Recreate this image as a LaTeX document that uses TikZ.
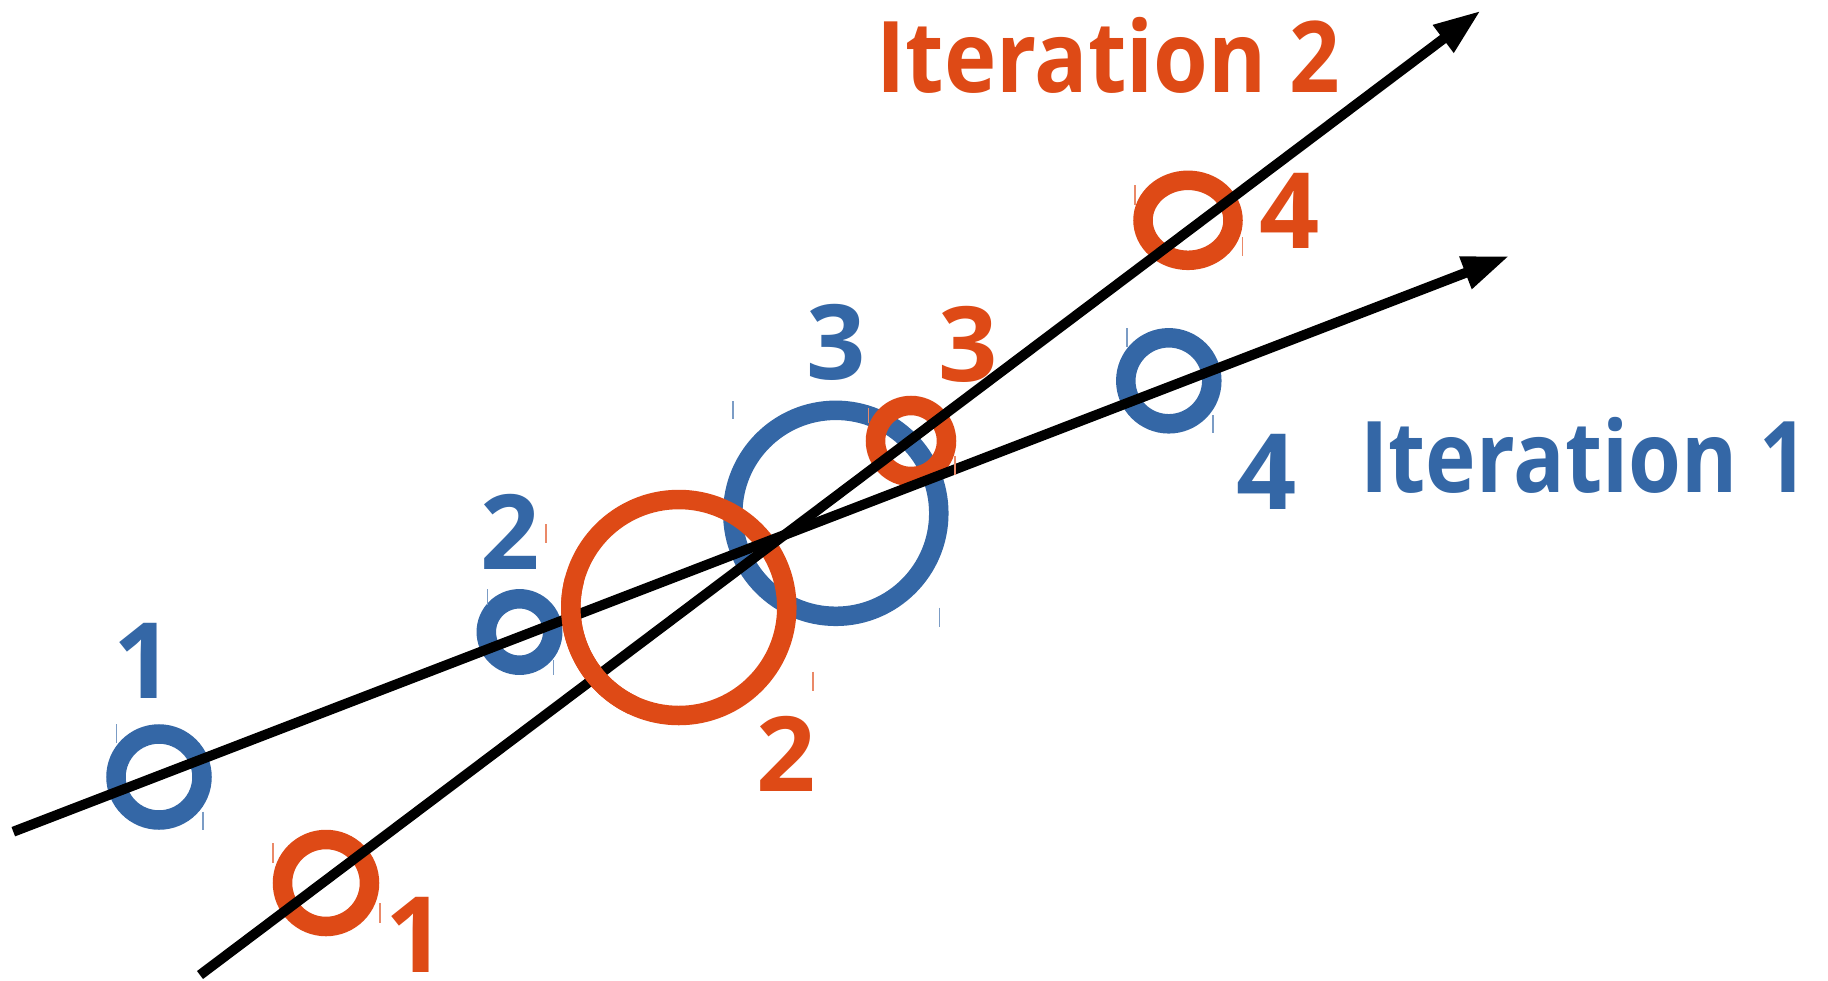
\documentclass[tikz,border=0pt]{standalone}
\usepackage{fontspec}
\usepackage{graphicx}
\setmainfont{Open Sans}
\usetikzlibrary{arrows.meta,shapes.geometric}
\definecolor{blueC}{RGB}{52,103,166}
\definecolor{orangeC}{RGB}{222,74,22}
\begin{document}
\begin{tikzpicture}[x=0.5pt,y=-0.5pt,
  ring/.style={line width=9.75pt,inner sep=0pt,outer sep=0pt},
  bring/.style={ring,draw=blueC,circle},
  oring/.style={ring,draw=orangeC,circle},
  axis/.style={line width=5pt,-{Triangle[length=23.5pt,width=16pt]}},
  btick/.style={line width=0.8pt,blueC!65},
  otick/.style={line width=0.8pt,orangeC!65},
  lbl/.style={inner sep=0pt,outer sep=0pt,font=\bfseries},
  blbl/.style={lbl,text=blueC},
  olbl/.style={lbl,text=orangeC}]
\useasboundingbox (0,0) rectangle (1828,981);
% blue rings (iteration 1)
\node[bring,minimum size=43pt]   (b1) at (159,777) {};
\node[bring,minimum size=33.2pt] (b2) at (519.5,632) {};
\node[bring,minimum size=103pt]  (b3) at (835.8,513.3) {};
\node[bring,minimum size=43pt]   (b4) at (1168.8,380.8) {};
% orange rings (iteration 2)
\node[oring,minimum size=43.5pt] (o1) at (326,883) {};
\node[oring,minimum size=108pt]  (o2) at (678.8,607.5) {};
\node[oring,minimum size=35.5pt] (o3) at (911,441) {};
\node[ring,draw=orangeC,ellipse,minimum width=45pt,minimum height=40pt] (o4) at (1188,220.3) {};
% axes
\coordinate (s1) at (13.3,831.7);
\coordinate (e1) at (1509.3,256);
\coordinate (s2) at (200,975);
\coordinate (e2) at (1480.7,10.7);
\draw[axis] (s1) -- (e1);
\draw[axis] (s2) -- (e2);
% left part of ring 2 lies over the axes
\draw[orangeC,line width=9.75pt] (o2.165) arc[start angle=165,end angle=245,radius=54pt];
% small marks
\draw[btick] (116.3,724) -- (116.3,743);
\draw[btick] (202.7,811.7) -- (202.7,830);
\draw[btick] (487.3,589) -- (487.3,605);
\draw[btick] (553.3,660) -- (553.3,675);
\draw[btick] (732.7,401) -- (732.7,419.3);
\draw[btick] (939.3,607.7) -- (939.3,626.7);
\draw[btick] (1126.7,328.3) -- (1126.7,346.7);
\draw[btick] (1212.7,415) -- (1212.7,433.3);
\draw[otick] (272.7,843) -- (272.7,863);
\draw[otick] (380,903) -- (380,922.7);
\draw[otick] (546,524) -- (546,542.7);
\draw[otick] (812.7,671.7) -- (812.7,690.7);
\draw[otick] (868.3,408) -- (868.3,423);
\draw[otick] (955,456) -- (955,475);
\draw[otick] (1134.7,185) -- (1134.7,205);
\draw[otick] (1242.3,237.3) -- (1242.3,256);
% labels
\node[blbl] (lb1) at (144,661) {\resizebox{!}{37.6pt}{1}};
\node[blbl] (lb2) at (510,532) {\resizebox{!}{37.6pt}{2}};
\node[blbl] (lb3) at (836,342.3) {\resizebox{!}{37.6pt}{3}};
\node[blbl] (lb4) at (1266.7,471.6) {\resizebox{!}{37.6pt}{4}};
\node[olbl] (lo1) at (416,935) {\resizebox{!}{37.6pt}{1}};
\node[olbl] (lo2) at (786.5,754) {\resizebox{!}{37.6pt}{2}};
\node[olbl] (lo3) at (968,344) {\resizebox{!}{37.6pt}{3}};
\node[olbl] (lo4) at (1289.5,211) {\resizebox{!}{37.6pt}{4}};
\node[olbl] (it2) at (1108.3,55.8) {\resizebox{232pt}{37.6pt}{Iteration 2}};
\node[blbl] (it1) at (1584.5,455) {\resizebox{224pt}{37.6pt}{Iteration 1}};
\end{tikzpicture}
\end{document}
